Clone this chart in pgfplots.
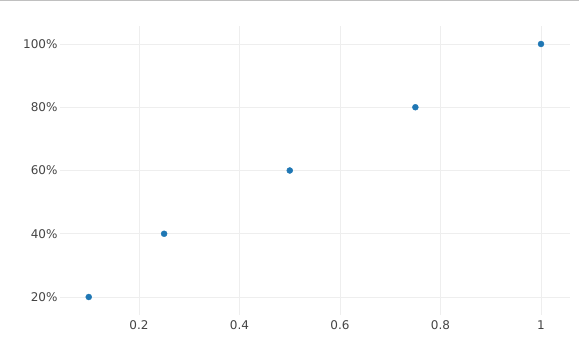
\documentclass[border=0pt]{standalone}
\usepackage{fontspec}
\setmainfont{DejaVu Sans}
\usepackage{pgfplots}
\pgfplotsset{compat=1.18}
\definecolor{pblue}{HTML}{1F77B4}
\definecolor{gridc}{HTML}{EEEEEE}
\definecolor{tickc}{HTML}{444444}
\definecolor{topline}{HTML}{C0C0C0}
\begin{document}
\begin{tikzpicture}[x=1pt,y=1pt]
\path[use as bounding box] (0,0) rectangle (579,353);
\draw[topline, line width=1.5pt] (0,352.3) -- (579,352.3);
\begin{axis}[at={(60pt,38pt)}, anchor=south west, scale only axis,
  width=510pt, height=289pt,
  xmin=0.0428, xmax=1.0577, ymin=14.31, ymax=105.69,
  axis line style={draw=none}, tick style={draw=none},
  xtick={0.2,0.4,0.6,0.8,1}, xticklabels={0.2,0.4,0.6,0.8,1},
  ytick={20,40,60,80,100}, yticklabels={20\%,40\%,60\%,80\%,100\%},
  grid=major, grid style={gridc, line width=0.8pt},
  ticklabel style={font=\fontsize{12}{14}\selectfont, text=tickc},
  yticklabel style={xshift=1pt},
  xticklabel style={yshift=-2pt},
  ]
\addplot[only marks, mark=*, mark size=3pt, pblue, mark options={draw=pblue, fill=pblue}]
  coordinates {(0.1,20) (0.25,40) (0.5,60) (0.75,80) (1,100)};
\end{axis}
\end{tikzpicture}
\end{document}
